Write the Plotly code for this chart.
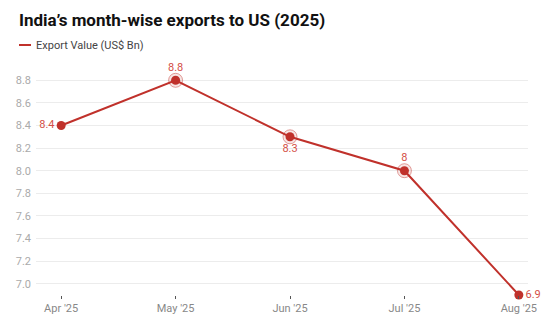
import plotly.graph_objects as go

months = ["Apr '25", "May '25", "Jun '25", "Jul '25", "Aug '25"]
export_value = [8.4, 8.8, 8.3, 8.0, 6.9]
value_labels = ["8.4", "8.8", "8.3", "8", "6.9"]
label_positions = ["middle left", "top center", "bottom center", "top center", "middle right"]
highlighted = [False, True, True, True, False]

LINE = "#c0312b"
LABEL = "#d44f47"

xs = list(range(len(months)))
hx = [x for x, h in zip(xs, highlighted) if h]
hy = [y for y, h in zip(export_value, highlighted) if h]

fig = go.Figure()
fig.add_trace(go.Scatter(
    x=hx, y=hy, mode="markers", hoverinfo="skip", showlegend=False,
    marker=dict(size=14, color="rgba(192,49,43,0.12)",
                line=dict(width=1, color="rgba(192,49,43,0.45)")),
    cliponaxis=False,
))
fig.add_trace(go.Scatter(
    x=xs, y=export_value, mode="lines+markers+text",
    name="Export Value (US$ Bn)",
    line=dict(color=LINE, width=2),
    marker=dict(size=9, color=LINE),
    text=value_labels, textposition=label_positions,
    textfont=dict(family="Roboto", size=11, color=LABEL),
    cliponaxis=False, showlegend=False,
))

fig.update_layout(
    width=554, height=335,
    margin=dict(l=36, r=26, t=69, b=40),
    plot_bgcolor="white", paper_bgcolor="white",
    font=dict(family="Roboto", size=11, color="#888"),
    title=dict(text="<b>India’s month-wise exports to US (2025)</b>",
               x=19 / 554, xanchor="left", xref="container",
               y=1 - 20 / 335, yanchor="middle", yref="container",
               font=dict(family="Roboto", size=17, color="#111")),
    xaxis=dict(range=[-0.22, 4.08], tickmode="array", tickvals=xs, ticktext=months,
               showgrid=False, zeroline=False, showline=False,
               ticks="outside", ticklen=3, tickwidth=1, tickcolor="#555",
               tickfont=dict(size=11, color="#888")),
    yaxis=dict(range=[6.9, 8.9], tick0=0, dtick=0.2, tickformat=".1f",
               showgrid=True, gridcolor="#ececec", gridwidth=1,
               zeroline=False, showline=False, ticks="",
               ticklabelstandoff=4,
               tickfont=dict(size=11, color="#aaa")),
    shapes=[dict(type="line", xref="paper", yref="paper",
                 x0=-17 / 492, x1=-5 / 492, y0=(335 - 45 - 40) / 226, y1=(335 - 45 - 40) / 226,
                 line=dict(color=LINE, width=2))],
    annotations=[dict(text="Export Value (US$ Bn)", xref="paper", yref="paper",
                      x=-2 / 492, y=(335 - 45 - 40) / 226, xanchor="left", yanchor="middle",
                      showarrow=False, font=dict(family="Roboto", size=11, color="#444"))],
)

fig.write_html("out.html")
